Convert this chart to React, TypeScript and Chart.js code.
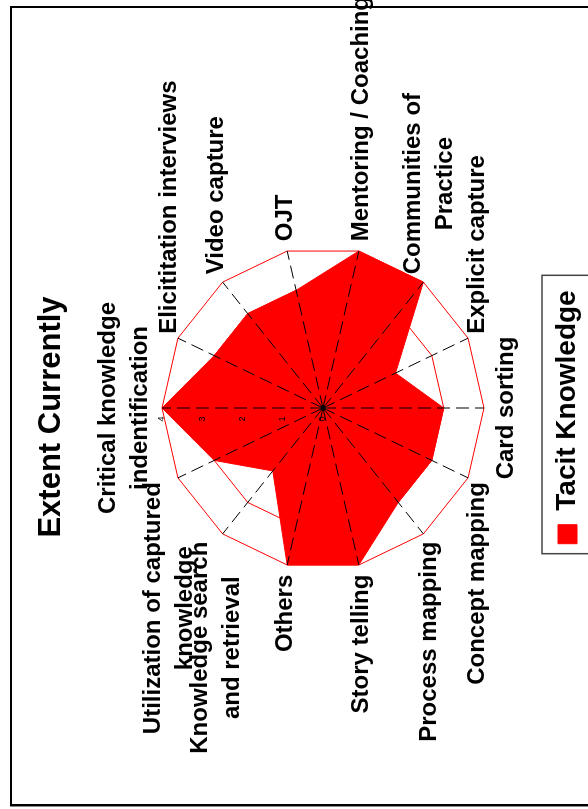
import { useEffect, useRef } from "react";
import { Chart, registerables } from "chart.js";

Chart.register(...registerables);

// Spoke categories, clockwise from the top of the radar
const categories: (string | string[])[] = [
  ["Critical knowledge", "indentification"],
  "Elicititation interviews",
  "Video capture",
  "OJT",
  "Mentoring / Coaching",
  ["Communities of", "Practice"],
  "Explicit capture",
  "Card sorting",
  "Concept mapping",
  "Process mapping",
  "Story telling",
  "Others",
  ["Knowledge search", "and retrieval"],
  ["Utilization of captured", "knowledge"],
];

// Extent currently used, per category (0-4)
const tacitValues = [4, 3, 3, 3, 4, 4, 2, 3, 3, 3, 4, 4, 2, 3];

const tickValues = [0, 1, 2, 3, 4];
const seriesLabel = "Tacit Knowledge";
const chartTitle = "Extent Currently";

const FAMILY = '"Liberation Sans", Arial, Helvetica, sans-serif';
const RED = "#ff0000";

// Canvas is laid out landscape and turned a quarter turn counter-clockwise
const CANVAS_W = 809;
const CANVAS_H = 620;

// Category names around the outer ring, axis numbers beside the first spoke,
// the hub where the spokes meet and a frame round the legend entry
const spokeText = {
  id: "spokeText",
  afterDraw(chart: any) {
    const scale = chart.scales.r;
    const ctx: CanvasRenderingContext2D = chart.ctx;
    const labels = chart.data.labels as (string | string[])[];
    const n = labels.length;
    const lineH = 32;
    ctx.save();

    ctx.fillStyle = "#000";
    ctx.beginPath();
    ctx.arc(scale.xCenter, scale.yCenter, 2.5, 0, Math.PI * 2);
    ctx.fill();

    ctx.font = `bold 24px ${FAMILY}`;
    ctx.textAlign = "center";
    labels.forEach((lab, i) => {
      const lines = Array.isArray(lab) ? lab : [lab];
      const p = scale.getPointPosition(i, scale.drawingArea + 10);
      const deg = (i * 360) / n;
      const blockW = Math.max(...lines.map((l) => ctx.measureText(l).width));
      let cx = p.x;
      if (deg > 0 && deg < 180) cx = p.x + blockW / 2;
      else if (deg > 180) cx = p.x - blockW / 2;
      lines.forEach((line, k) => {
        if (deg === 0) {
          ctx.textBaseline = "bottom";
          ctx.fillText(line, cx, p.y - (lines.length - 1 - k) * lineH);
        } else if (deg === 180) {
          ctx.textBaseline = "top";
          ctx.fillText(line, cx, p.y + k * lineH);
        } else {
          ctx.textBaseline = "middle";
          ctx.fillText(line, cx, p.y + (k - (lines.length - 1) / 2) * lineH);
        }
      });
    });

    ctx.font = `9px ${FAMILY}`;
    ctx.textBaseline = "middle";
    tickValues.forEach((v) => {
      const p = scale.getPointPosition(0, scale.getDistanceFromCenterForValue(v));
      ctx.fillText(String(v), p.x - 11, p.y);
    });

    const hb = chart.legend?.legendHitBoxes?.[0];
    if (hb) {
      ctx.strokeStyle = "#444";
      ctx.lineWidth = 1.5;
      ctx.strokeRect(hb.left - 10, hb.top - 11.5, hb.width + 25, 80);
    }
    ctx.restore();
  },
};

export default function App() {
  const ref = useRef<HTMLCanvasElement>(null);

  useEffect(() => {
    if (!ref.current) return;
    Chart.defaults.font.family = FAMILY;
    const chart = new Chart(ref.current, {
      type: "radar",
      data: {
        labels: categories,
        datasets: [
          {
            label: seriesLabel,
            data: tacitValues,
            backgroundColor: RED,
            borderColor: RED,
            borderWidth: 1,
            pointRadius: 0,
            fill: true,
          },
        ],
      },
      options: {
        animation: false,
        responsive: false,
        devicePixelRatio: 1,
        layout: { padding: { left: 0, right: 25, top: 0, bottom: 28.5 } },
        plugins: {
          title: {
            display: true,
            text: chartTitle,
            color: "#000",
            font: { size: 31, weight: "bold", family: FAMILY },
            padding: { top: 33, bottom: 91.8 },
          },
          legend: {
            display: true,
            position: "bottom",
            labels: {
              color: "#000",
              font: { size: 28, weight: "bold", family: FAMILY },
              boxWidth: 19,
              boxHeight: 19,
              padding: 69.5,
            },
          },
          tooltip: { enabled: false },
        },
        scales: {
          r: {
            min: 0,
            max: 4,
            ticks: { stepSize: 1, display: false, z: 1 },
            grid: { color: RED, lineWidth: 1, circular: false, z: 1 },
            angleLines: { color: "#000", lineWidth: 1, borderDash: [13, 6] },
            pointLabels: { display: false },
            // radar sits a little right of the title's centre line
            afterFit: (scale: any) => {
              scale.xCenter += 9;
            },
          },
        },
      },
      plugins: [spokeText],
    });
    return () => chart.destroy();
  }, []);

  return (
    <div
      style={{
        position: "fixed",
        left: 0,
        top: 0,
        width: 588,
        height: 809,
        overflow: "hidden",
        background: "#fff",
      }}
    >
      <div
        style={{
          position: "absolute",
          left: 10,
          top: 6,
          width: 700,
          height: 800,
          border: "2px solid #000",
          boxShadow: "0 1px 0 #888",
          boxSizing: "border-box",
        }}
      />
      <div
        style={{
          position: "absolute",
          left: 0,
          top: 0,
          width: CANVAS_W,
          height: CANVAS_H,
          transformOrigin: "0 0",
          transform: `translate(0px, ${CANVAS_W}px) rotate(-90deg)`,
        }}
      >
        <canvas
          ref={ref}
          width={CANVAS_W}
          height={CANVAS_H}
          style={{ width: CANVAS_W, height: CANVAS_H, display: "block" }}
        />
      </div>
    </div>
  );
}
